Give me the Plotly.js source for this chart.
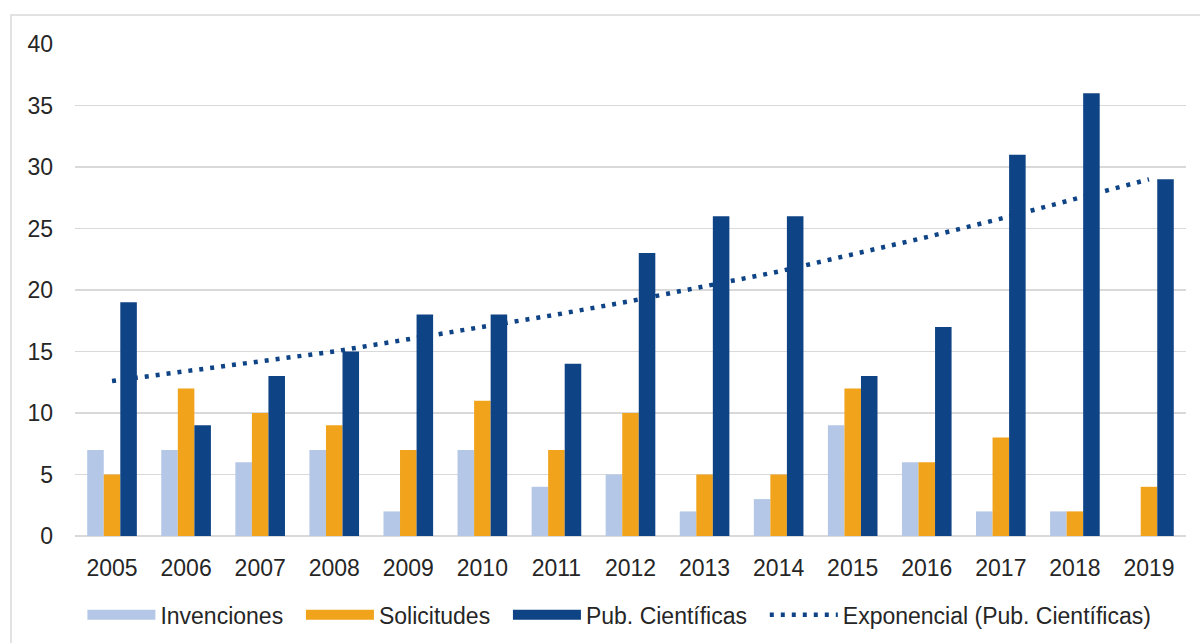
<!DOCTYPE html>
<html>
<head>
<meta charset="utf-8">
<script src="https://cdn.plot.ly/plotly-3.0.1.min.js"></script>
<style>
html,body{margin:0;padding:0;background:#fff;}
#chart{width:1200px;height:643px;}
</style>
</head>
<body>
<div id="chart"></div>
<script>
const years = ['2005','2006','2007','2008','2009','2010','2011','2012','2013','2014','2015','2016','2017','2018','2019'];
const invenciones = [7,7,6,7,2,7,4,5,2,3,9,6,2,2,0];
const solicitudes = [5,12,10,9,7,11,7,10,5,5,12,6,8,2,4];
const pubCientificas = [19,9,13,15,18,18,14,23,26,26,13,17,31,36,29];
const tendencia = [12.6,13.4,14.2,15.0,16.0,17.0,18.0,19.1,20.3,21.5,22.9,24.3,25.8,27.4,29.0];
const yTicks = [0,5,10,15,20,25,30,35,40];
const legendNames = ['Invenciones','Solicitudes','Pub. Científicas','Exponencial (Pub. Científicas)'];

const cInv = '#b4c7e7', cSol = '#f0a31b', cPub = '#0e4385';
const font = {family:'Liberation Sans, Arial, sans-serif', size:23, color:'#262626'};
const pad = '\u00a0\u00a0';

const traces = [
  {type:'bar', x:years, y:invenciones, name:legendNames[0], marker:{color:cInv}, showlegend:false},
  {type:'bar', x:years, y:solicitudes, name:legendNames[1], marker:{color:cSol}, showlegend:false},
  {type:'bar', x:years, y:pubCientificas, name:legendNames[2], marker:{color:cPub}, showlegend:false},
  {type:'scatter', mode:'lines', x:years, y:tendencia, name:legendNames[3], line:{color:cPub, width:4.5, dash:'4px,7px'}, showlegend:false},
  // legend entries
  {type:'scatter', mode:'lines', x:[years[0]], y:[null], name:legendNames[0]+pad, line:{color:cInv, width:14}},
  {type:'scatter', mode:'lines', x:[years[0]], y:[null], name:legendNames[1]+pad, line:{color:cSol, width:14}},
  {type:'scatter', mode:'lines', x:[years[0]], y:[null], name:legendNames[2]+pad, line:{color:cPub, width:14}},
  {type:'scatter', mode:'lines', x:[years[0]], y:[null], name:legendNames[3], line:{color:cPub, width:4.5, dash:'4px,7px'}}
];

const layout = {
  width:1200, height:643,
  margin:{l:75, r:14, t:44, b:107, autoexpand:false},
  paper_bgcolor:'#fff', plot_bgcolor:'#fff',
  font:font,
  barmode:'group', bargap:0.33, bargroupgap:0,
  showlegend:true,
  legend:{orientation:'h', x:0.49, xanchor:'center', yref:'container', y:0.044, yanchor:'middle', itemwidth:68, font:font, traceorder:'normal'},
  xaxis:{type:'category', tickfont:font, showgrid:false, zeroline:false, showline:false, ticks:'', ticklabelstandoff:16, fixedrange:true, automargin:false},
  yaxis:{range:[0,40], tickvals:yTicks, ticktext:yTicks.map(String), tickfont:font, showgrid:true, gridcolor:'#d9d9d9', gridwidth:1.5, zeroline:true, zerolinecolor:'#d9d9d9', zerolinewidth:1.5, showline:false, ticks:'', ticklabelstandoff:21, fixedrange:true, automargin:false},
  shapes:[
    {type:'rect', xref:'paper', yref:'paper', x0:-0.0576, x1:1.02, y0:-0.25, y1:1.0588, line:{color:'#d9d9d9', width:1.5}, fillcolor:'rgba(0,0,0,0)', layer:'below'}
  ]
};

Plotly.newPlot('chart', traces, layout, {displayModeBar:false, staticPlot:true});
</script>
</body>
</html>
